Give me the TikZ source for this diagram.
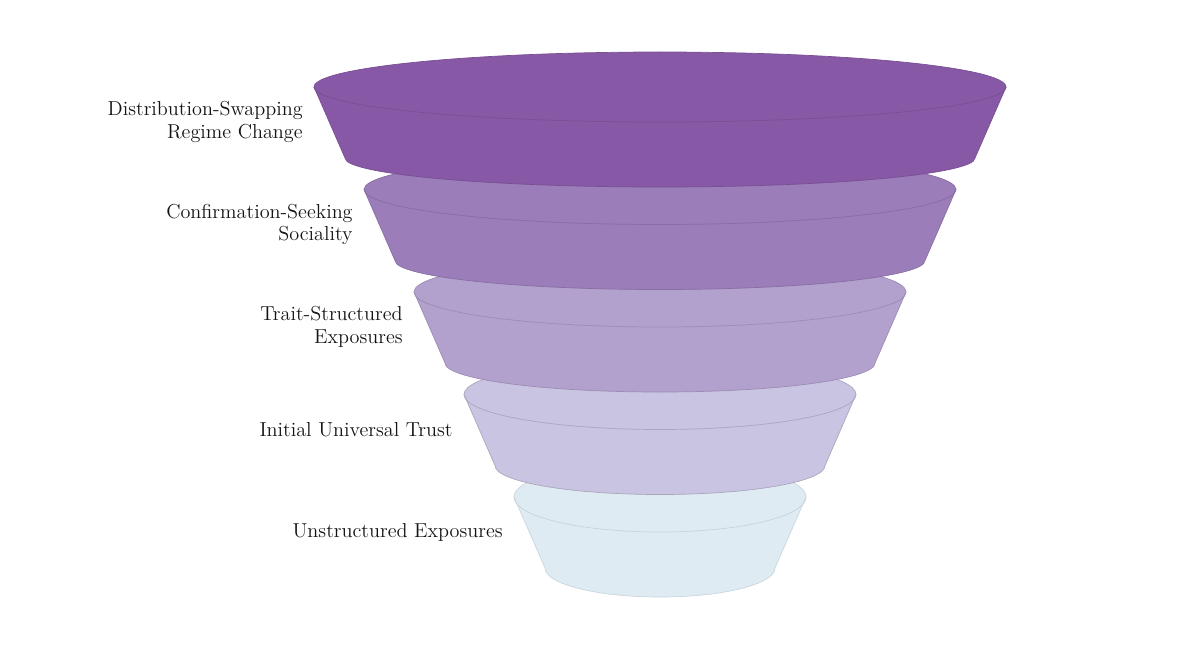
\documentclass[tikz,border=0pt]{standalone}
\usepackage{tikz}
\usetikzlibrary{positioning, calc}
\usepackage{amsmath,amssymb}
\usepackage{xcolor}

\definecolor{layerA}{RGB}{135,88,165}
\definecolor{layerB}{RGB}{155,125,185}
\definecolor{layerC}{RGB}{178,160,205}
\definecolor{layerD}{RGB}{200,196,225}
\definecolor{layerE}{RGB}{222,235,243}

\tikzset{
  rim/.style={line width=0.4pt},
  tag/.style={anchor=east, align=right, font=\fontsize{11.5}{13}\selectfont, text=black!92, inner sep=0pt}
}

\begin{document}
\begin{tikzpicture}
          % 背景 (bounding box)
          \useasboundingbox (0,0) rectangle (24,-13.02);

          % 子圖形 layer5 (類型: frustum)
          \begin{scope}[shift={(13.2, -9.94)}]
            % 漏斗層
            \draw[rim, fill=layerE, draw=layerE!85!black!60!layerE] (-2.92, 0) arc[start angle=180, end angle=0, x radius=2.92, y radius=0.70]
              -- (2.30, -1.42) arc[start angle=0, end angle=-180, x radius=2.30, y radius=0.58] -- cycle;
            \draw[rim, draw=layerE!80!black!50!layerE] (-2.92, 0) arc[start angle=180, end angle=360, x radius=2.92, y radius=0.70];
            \node[tag] (lab5) at (-3.14, -0.70) {Unstructured Exposures};
          \end{scope}

          % 子圖形 layer4 (類型: frustum)
          \begin{scope}[shift={(13.2, -7.89)}]
            % 漏斗層
            \draw[rim, fill=layerD, draw=layerD!85!black] (-3.92, 0) arc[start angle=180, end angle=0, x radius=3.92, y radius=0.70]
              -- (3.30, -1.42) arc[start angle=0, end angle=-180, x radius=3.30, y radius=0.58] -- cycle;
            \draw[rim, draw=layerD!85!black] (-3.92, 0) arc[start angle=180, end angle=360, x radius=3.92, y radius=0.70];
            \node[tag] (lab4) at (-4.14, -0.70) {Initial Universal Trust};
          \end{scope}

          % 子圖形 layer3 (類型: frustum)
          \begin{scope}[shift={(13.2, -5.84)}]
            % 漏斗層
            \draw[rim, fill=layerC, draw=layerC!88!black] (-4.92, 0) arc[start angle=180, end angle=0, x radius=4.92, y radius=0.70]
              -- (4.30, -1.42) arc[start angle=0, end angle=-180, x radius=4.30, y radius=0.58] -- cycle;
            \draw[rim, draw=layerC!88!black] (-4.92, 0) arc[start angle=180, end angle=360, x radius=4.92, y radius=0.70];
            \node[tag] (lab3) at (-5.14, -0.70) {Trait-Structured\\Exposures};
          \end{scope}

          % 子圖形 layer2 (類型: frustum)
          \begin{scope}[shift={(13.2, -3.79)}]
            % 漏斗層
            \draw[rim, fill=layerB, draw=layerB!88!black] (-5.92, 0) arc[start angle=180, end angle=0, x radius=5.92, y radius=0.70]
              -- (5.30, -1.42) arc[start angle=0, end angle=-180, x radius=5.30, y radius=0.58] -- cycle;
            \draw[rim, draw=layerB!88!black] (-5.92, 0) arc[start angle=180, end angle=360, x radius=5.92, y radius=0.70];
            \node[tag] (lab2) at (-6.14, -0.70) {Confirmation-Seeking\\Sociality};
          \end{scope}

          % 子圖形 layer1 (類型: frustum)
          \begin{scope}[shift={(13.2, -1.74)}]
            % 漏斗層
            \draw[rim, fill=layerA, draw=layerA!90!black] (-6.92, 0) arc[start angle=180, end angle=0, x radius=6.92, y radius=0.70]
              -- (6.30, -1.42) arc[start angle=0, end angle=-180, x radius=6.30, y radius=0.58] -- cycle;
            \draw[rim, draw=layerA!90!black] (-6.92, 0) arc[start angle=180, end angle=360, x radius=6.92, y radius=0.70];
            \node[tag] (lab1) at (-7.14, -0.70) {Distribution-Swapping\\Regime Change};
          \end{scope}
        \end{tikzpicture}
\end{document}
